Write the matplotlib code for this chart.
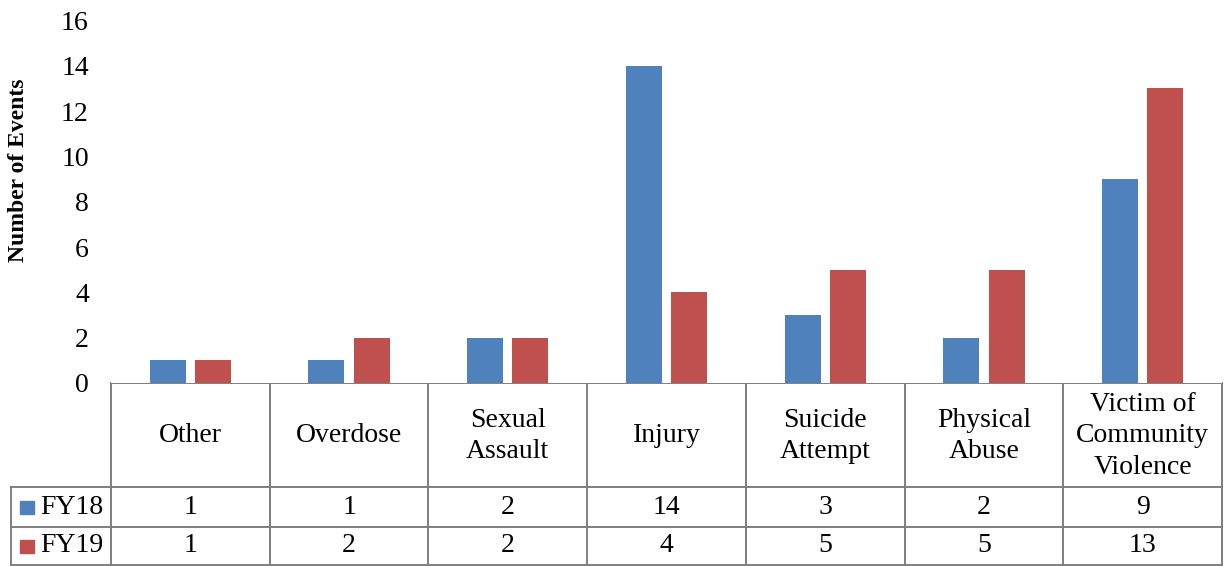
import matplotlib.pyplot as plt
from matplotlib.patches import Rectangle

plt.rcParams['font.family'] = ['Liberation Serif', 'DejaVu Serif']

categories = ['Other', 'Overdose', 'Sexual\nAssault', 'Injury', 'Suicide\nAttempt',
              'Physical\nAbuse', 'Victim of\nCommunity\nViolence']
series = ['FY18', 'FY19']
fy18 = [1, 1, 2, 14, 3, 2, 9]
fy19 = [1, 2, 2, 4, 5, 5, 13]
colors = ['#4F81BD', '#C0504D']

W, H = 1225, 566
fig = plt.figure(figsize=(W / 100, H / 100), dpi=100)

# layout in pixels
plot_l, plot_r = 111, 1222
zero_y, top_y = 383, 20.5
tab_l = 11
row_y = [383, 487, 527, 565]
fs = 20

ax = fig.add_axes([plot_l / W, 1 - zero_y / H, (plot_r - plot_l) / W, (zero_y - top_y) / H])
n = len(categories)
xs = range(n)
bw = 0.227
off = 0.143
ax.bar([x - off for x in xs], fy18, bw, color=colors[0])
ax.bar([x + off for x in xs], fy19, bw, color=colors[1])
ax.set_xlim(-0.5, n - 0.5)
ax.set_ylim(0, 16)
ax.set_yticks(range(0, 17, 2))
ax.tick_params(axis='y', length=0, labelsize=fs, pad=16)
ax.set_xticks([])
for s in ax.spines.values():
    s.set_visible(False)
ax.set_ylabel('Number of Events', fontsize=17, fontweight='bold')
ax.yaxis.set_label_coords(-(plot_l - 29) / (plot_r - plot_l), (zero_y - 170) / (zero_y - top_y))

# data table underneath
tab = fig.add_axes([0, 0, 1, 1], zorder=-1)
tab.set_xlim(0, W)
tab.set_ylim(H, 0)
tab.axis('off')
lc = '#7F7F7F'
lw = 1.4
colw = (plot_r - plot_l) / n
col_x = [plot_l + i * colw for i in range(n + 1)]

# horizontal lines
tab.plot([plot_l, plot_r], [row_y[0], row_y[0]], color=lc, lw=lw)
for y in row_y[1:]:
    tab.plot([tab_l, plot_r], [y, y], color=lc, lw=lw)
# vertical lines
for x in col_x:
    tab.plot([x, x], [row_y[0], row_y[-1]], color=lc, lw=lw)
tab.plot([tab_l, tab_l], [row_y[1], row_y[-1]], color=lc, lw=lw)

for i, c in enumerate(categories):
    cx = (col_x[i] + col_x[i + 1]) / 2
    tab.text(cx, (row_y[0] + row_y[1]) / 2 + 1, c, ha='center', va='center',
             fontsize=fs, linespacing=1.32)
for r, vals in enumerate([fy18, fy19]):
    cy = (row_y[r + 1] + row_y[r + 2]) / 2
    tab.add_patch(Rectangle((20, cy - 6), 14, 13, color=colors[r]))
    tab.text(40, cy, series[r], ha='left', va='center', fontsize=fs)
    for i, v in enumerate(vals):
        cx = (col_x[i] + col_x[i + 1]) / 2
        tab.text(cx, cy, str(v), ha='center', va='center', fontsize=fs)

fig.savefig('out.png', dpi=100)
